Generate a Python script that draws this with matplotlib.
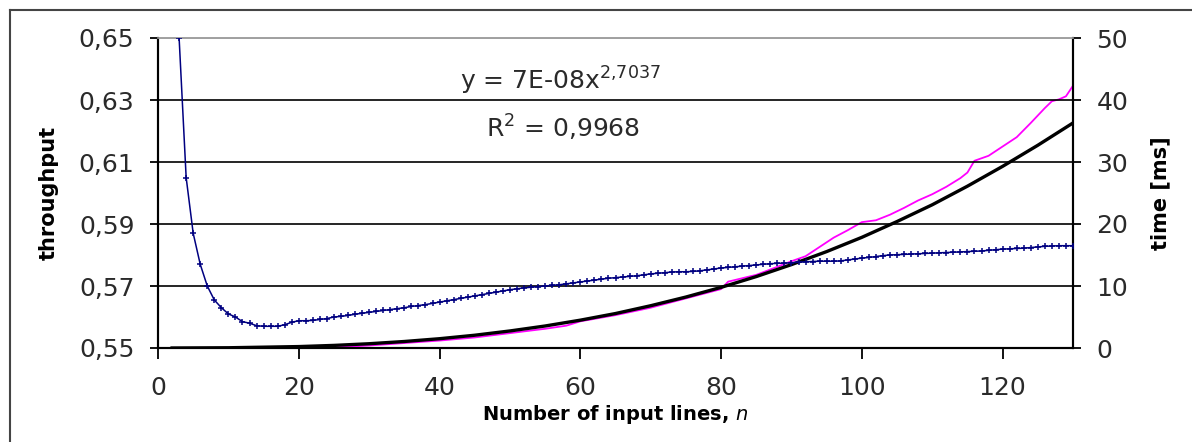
import matplotlib
matplotlib.use("Agg")
import matplotlib.pyplot as plt
from matplotlib.lines import Line2D
from matplotlib.ticker import FuncFormatter

plt.rcParams["mathtext.default"] = "regular"

# ---- data ----
n_thr = list(range(3, 131))
throughput = [
    0.6500, 0.6050, 0.5870, 0.5770, 0.5700, 0.5655, 0.5630, 0.5610, 0.5600, 0.5585,   # 3-12
    0.5580, 0.5572, 0.5570, 0.5570, 0.5570, 0.5575, 0.5583, 0.5588, 0.5588, 0.5589,   # 13-22
    0.5592, 0.5595, 0.5600, 0.5602, 0.5605, 0.5609, 0.5612, 0.5615, 0.5618, 0.5621,   # 23-32
    0.5624, 0.5627, 0.5630, 0.5634, 0.5637, 0.5640, 0.5644, 0.5648, 0.5652, 0.5656,   # 33-42
    0.5660, 0.5664, 0.5668, 0.5672, 0.5676, 0.5680, 0.5684, 0.5688, 0.5691, 0.5694,   # 43-52
    0.5696, 0.5698, 0.5700, 0.5702, 0.5704, 0.5707, 0.5710, 0.5713, 0.5716, 0.5719,   # 53-62
    0.5722, 0.5725, 0.5727, 0.5729, 0.5731, 0.5733, 0.5736, 0.5739, 0.5741, 0.5743,   # 63-72
    0.5745, 0.5746, 0.5746, 0.5747, 0.5749, 0.5752, 0.5755, 0.5758, 0.5760, 0.5762,   # 73-82
    0.5764, 0.5766, 0.5768, 0.5770, 0.5772, 0.5773, 0.5774, 0.5775, 0.5777, 0.5778,   # 83-92
    0.5779, 0.5780, 0.5780, 0.5780, 0.5781, 0.5784, 0.5787, 0.5790, 0.5792, 0.5795,   # 93-102
    0.5798, 0.5800, 0.5801, 0.5802, 0.5803, 0.5804, 0.5805, 0.5806, 0.5807, 0.5808,   # 103-112
    0.5809, 0.5810, 0.5811, 0.5812, 0.5813, 0.5815, 0.5817, 0.5819, 0.5820, 0.5821,   # 113-122
    0.5822, 0.5824, 0.5826, 0.5828, 0.5829, 0.5830, 0.5830, 0.5830,                   # 123-130
]

n_meas = [2, 10, 20, 25, 30, 35, 40, 45, 50, 55, 58, 60, 65, 70, 75, 80, 81, 85, 88,
          90, 92, 94, 96, 98, 100, 102, 104, 106, 108, 110, 112, 114, 115, 116, 118,
          120, 122, 124, 126, 127, 128, 129, 130]
time_meas = [0.0, 0.0, 0.0, 0.1, 0.4, 0.8, 1.2, 1.7, 2.4, 3.1, 3.6, 4.3, 5.3, 6.5,
             8.0, 9.5, 10.7, 11.8, 13.1, 14.0, 14.8, 16.3, 17.8, 19.0, 20.3, 20.6,
             21.5, 22.6, 23.8, 24.8, 26.0, 27.4, 28.3, 30.2, 31.0, 32.5, 34.0, 36.3,
             38.7, 39.8, 40.1, 40.6, 42.3]

n_fit = [2, 10, 20, 25, 30, 35, 40, 45, 50, 55, 60, 65, 70, 75, 80, 85, 90, 95,
         100, 105, 110, 115, 120, 125, 130]
time_fit = [0.0, 0.04, 0.23, 0.42, 0.69, 1.05, 1.50, 2.06, 2.75, 3.55, 4.49, 5.56,
            6.82, 8.22, 9.78, 11.52, 13.45, 15.55, 17.85, 20.40, 23.10, 26.10,
            29.30, 32.70, 36.30]

x_ticks = [0, 20, 40, 60, 80, 100, 120]
thr_ticks = [0.55, 0.57, 0.59, 0.61, 0.63, 0.65]
time_ticks = [0, 10, 20, 30, 40, 50]

# ---- figure ----
W, H = 1192, 442
fig = plt.figure(figsize=(W / 100, H / 100), dpi=100)
fig.patch.set_facecolor("white")
ax = fig.add_axes([158 / W, 1 - 348 / H, (1073 - 158) / W, (348 - 38) / H])
ax2 = ax.twinx()

lab_font = dict(family="DejaVu Sans", weight="bold", size=15)
txt_col = "#2a2a2a"

ax.set_xlim(0, 130)
ax.set_ylim(0.55, 0.65)
ax2.set_ylim(0, 50)

ax.set_xticks(x_ticks)
ax.set_yticks(thr_ticks)
ax2.set_yticks(time_ticks)
ax.yaxis.set_major_formatter(FuncFormatter(lambda v, p: f"{v:.2f}".replace(".", ",")))
ax2.yaxis.set_major_formatter(FuncFormatter(lambda v, p: f"{v:.0f}"))

ax.tick_params(axis="x", direction="out", length=8, width=1.3, pad=12, colors="black",
               labelcolor=txt_col, labelsize=18)
ax.tick_params(axis="y", direction="out", length=6, width=1.3, pad=11, colors="black",
               labelcolor=txt_col, labelsize=18)
ax2.tick_params(axis="y", direction="out", length=6, width=1.3, pad=11, colors="black",
                labelcolor=txt_col, labelsize=18)
for a in (ax, ax2):
    for lbl in a.get_xticklabels() + a.get_yticklabels():
        lbl.set_fontfamily("DejaVu Sans")

ax.grid(axis="y", color="black", linewidth=1.2)
ax.set_axisbelow(True)
gl = ax.get_ygridlines()
gl[-1].set_color("#a0a0a0")
gl[0].set_visible(False)

for a in (ax, ax2):
    a.spines["top"].set_color("#a0a0a0")
    a.spines["top"].set_linewidth(1.2)
    for s in ("left", "right", "bottom"):
        a.spines[s].set_linewidth(1.5)
        a.spines[s].set_color("black")

ax.set_ylabel("throughput", fontdict=lab_font, labelpad=14)
ax2.set_ylabel("time [ms]", fontdict=lab_font, labelpad=16)
ax.set_xlabel("Number of input lines, $\\mathit{n}$",
              fontdict=dict(family="DejaVu Sans", weight="bold", size=14), labelpad=2)

# series
ax2.plot(n_meas, time_meas, color="#ff00ff", linewidth=1.3, zorder=3)
ax2.plot(n_fit, time_fit, color="black", linewidth=2.4, zorder=4)
ax.plot(n_thr, throughput, color="#000080", linewidth=1.1, marker="+",
        markersize=5, markeredgewidth=1.1, zorder=5)
ax.set_zorder(ax2.get_zorder() + 1)
ax.patch.set_visible(False)

# trendline annotation
fig.text(560 / W, 1 - 90 / H, "y = 7E-08x$^{2{,}7037}$", ha="center", va="baseline",
         family="DejaVu Sans", size=18, color=txt_col)
fig.text(563 / W, 1 - 138 / H, "R$^{2}$ = 0,9968", ha="center", va="baseline",
         family="DejaVu Sans", size=18, color=txt_col)

# chart area border
fig.add_artist(Line2D([10 / W, 1.0], [1 - 10 / H, 1 - 10 / H], transform=fig.transFigure,
                      color="#444444", linewidth=1.5))
fig.add_artist(Line2D([10 / W, 10 / W], [0, 1 - 10 / H], transform=fig.transFigure,
                      color="#444444", linewidth=1.5))

fig.savefig("out.png", dpi=100, facecolor="white")
